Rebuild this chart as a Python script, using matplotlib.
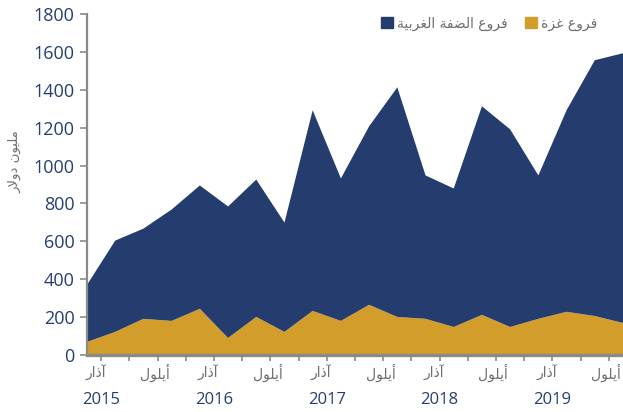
import numpy as np
import matplotlib
matplotlib.use("Agg")
import matplotlib.pyplot as plt
from matplotlib.patches import Patch

# quarterly figures, million dollars (Q1 2015 .. Q4 2019)
years = ["2015", "2016", "2017", "2018", "2019"]
months = ["آذار", "أيلول"]
gaza = [69, 122, 191, 180, 244, 90, 201, 122, 233, 180,
        265, 201, 191, 148, 212, 148, 191, 228, 206, 169]
west_bank = [301, 482, 476, 588, 651, 694, 725, 577, 1059, 752,
             942, 1212, 757, 731, 1101, 1043, 757, 1064, 1350, 1424]
labels = ["فروع الضفة الغربية", "فروع غزة"]
ylabel = "مليون دولار"

NAVY = "#243d6e"
GOLD = "#d29d2b"
GRAY = "#6e6e6e"
TICK = "#263f70"

# matplotlib has no arabic shaping, so pick presentation forms by hand
FORMS = {
    "\u0622": (0xFE81, 2), "\u0623": (0xFE83, 2), "\u0627": (0xFE8D, 2),
    "\u0628": (0xFE8F, 4), "\u0629": (0xFE93, 2), "\u062F": (0xFEA9, 2),
    "\u0630": (0xFEAB, 2), "\u0631": (0xFEAD, 2), "\u0632": (0xFEAF, 2),
    "\u0636": (0xFEBD, 4), "\u0639": (0xFEC9, 4), "\u063A": (0xFECD, 4),
    "\u0641": (0xFED1, 4), "\u0644": (0xFEDD, 4), "\u0645": (0xFEE1, 4),
    "\u0646": (0xFEE5, 4), "\u0648": (0xFEED, 2), "\u064A": (0xFEF1, 4),
}
LAM_ALEF = {"\u0627": 0xFEFB, "\u0623": 0xFEF7, "\u0622": 0xFEF5}


def shape(text):
    units = []
    i = 0
    while i < len(text):
        c = text[i]
        if c == "\u0644" and i + 1 < len(text) and text[i + 1] in LAM_ALEF:
            units.append((LAM_ALEF[text[i + 1]], 2))
            i += 2
            continue
        units.append(FORMS.get(c, (ord(c), 0)))
        i += 1
    out = []
    for k, (base, n) in enumerate(units):
        if n == 0:
            out.append(chr(base))
            continue
        prev = units[k - 1] if k > 0 else None
        nxt = units[k + 1] if k + 1 < len(units) else None
        jp = prev is not None and prev[1] == 4
        jn = n == 4 and nxt is not None and nxt[1] > 0
        off = 3 if (jp and jn) else 2 if jn else 1 if jp else 0
        out.append(chr(base + off))
    return "".join(reversed(out))


fig = plt.figure(figsize=(6.23, 4.12), dpi=100)
ax = fig.add_axes([87 / 623, 1 - 355 / 412, 1 - 87 / 623, 341 / 412])

x = np.arange(len(gaza))
ax.stackplot(x, gaza, west_bank, colors=[GOLD, NAVY], linewidth=0)

ax.set_xlim(0, len(gaza) - 1)
ax.set_ylim(0, 1800)
ax.set_yticks(np.arange(0, 1801, 200))
ax.set_xticks(x[:-1] + 0.5)
ax.set_xticklabels([])

for side in ["top", "right"]:
    ax.spines[side].set_visible(False)
for side in ["left", "bottom"]:
    ax.spines[side].set_color("#8a8a8a")
ax.spines["left"].set_linewidth(1.6)
ax.spines["bottom"].set_linewidth(2.4)
ax.spines["bottom"].set_zorder(5)
ax.tick_params(axis="y", colors="#8a8a8a", length=5, width=1.2, labelsize=13,
               labelcolor=TICK, pad=4)
ax.tick_params(axis="x", colors="#8a8a8a", length=4, width=1.2)
for t in ax.get_yticklabels():
    t.set_fontfamily("Open Sans")
    t.set_fontweight("medium")

tr = ax.get_xaxis_transform()
for k, yr in enumerate(years):
    ax.text(4 * k + 0.3, -0.053, shape(months[0]), transform=tr, ha="center",
            va="center", fontsize=10, color=GRAY, family="DejaVu Sans")
    ax.text(4 * k + 2.4, -0.053, shape(months[1]), transform=tr, ha="center",
            va="center", fontsize=10, color=GRAY, family="DejaVu Sans")
    ax.text(4 * k + 0.5, -0.132, yr, transform=tr, ha="center", va="center",
            fontsize=12, color=TICK, family="Open Sans", weight="medium")

fig.text(15 / 623, 1 - 162 / 412, shape(ylabel), rotation=90, ha="center",
         va="center", fontsize=9.5, color=GRAY, family="DejaVu Sans")

handles = [Patch(color=NAVY), Patch(color=GOLD)]
leg = fig.legend(handles, [shape(s) for s in labels], loc="upper right",
                 bbox_to_anchor=(610 / 623, 1 - 4 / 412), ncol=2, frameon=False,
                 handlelength=0.9, handleheight=0.9, handletextpad=0.3,
                 columnspacing=1.2, prop={"family": "DejaVu Sans", "size": 10})
for t in leg.get_texts():
    t.set_color(GRAY)

fig.savefig("out.png", dpi=100)
